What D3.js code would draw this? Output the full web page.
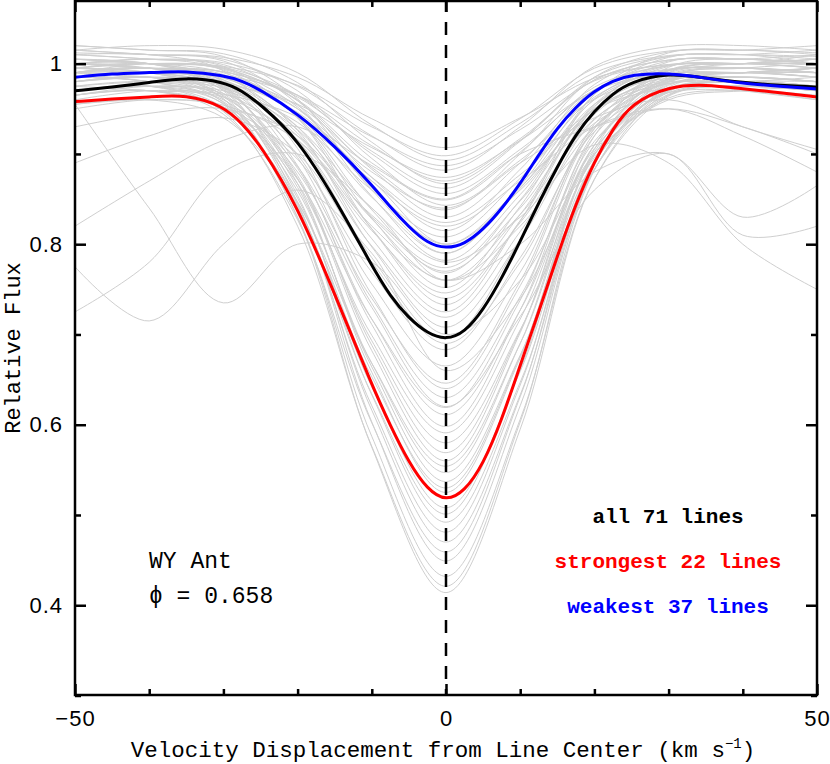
<!DOCTYPE html>
<html>
<head>
<meta charset="utf-8">
<script src="https://cdn.jsdelivr.net/npm/d3@7"></script>
<style>
  html, body { margin: 0; padding: 0; background: #fff; }
  svg { display: block; }
</style>
</head>
<body>
<svg id="chart" width="830" height="764"></svg>
<script>
// ---------------- DATA ----------------
// Individual line profiles sampled at these velocities (km/s)
const velocity = [-50, -40, -30, -20, -10, 0, 10, 20, 30, 40, 50];

// 71 individual line profiles (relative flux)
const lineProfiles = [
  [1.012,1.01,1.007,0.985,0.939,0.907,0.94,0.984,0.999,1.0,1.005],
  [0.995,1.0,0.997,0.976,0.93,0.898,0.939,0.995,1.014,1.015,1.012],
  [1.015,1.02,1.016,0.99,0.932,0.893,0.934,0.99,1.009,1.01,1.008],
  [0.985,0.99,0.987,0.965,0.919,0.887,0.927,0.981,0.999,1.0,0.995],
  [1.0,1.005,1.001,0.975,0.92,0.882,0.93,0.997,1.019,1.02,1.015],
  [0.975,0.98,0.977,0.955,0.907,0.874,0.915,0.97,0.989,0.99,0.985],
  [1.02,1.015,1.011,0.979,0.913,0.867,0.915,0.982,1.004,1.005,1.01],
  [0.99,0.995,0.991,0.963,0.903,0.862,0.914,0.985,1.008,1.01,1.0],
  [1.005,1.0,0.996,0.965,0.9,0.856,0.905,0.971,0.994,0.995,0.99],
  [0.96,0.97,0.966,0.941,0.887,0.849,0.902,0.974,0.998,1.0,1.005],
  [1.015,1.01,1.005,0.97,0.895,0.843,0.893,0.961,0.984,0.985,0.98],
  [0.995,0.99,0.985,0.954,0.885,0.838,0.9,0.985,1.013,1.015,1.02],
  [0.99,1.0,0.995,0.959,0.883,0.83,0.89,0.971,0.998,1.0,1.0],
  [0.98,0.985,0.98,0.946,0.874,0.824,0.877,0.949,0.973,0.975,0.97],
  [1.01,1.005,0.999,0.959,0.874,0.815,0.883,0.977,1.008,1.01,1.015],
  [0.965,0.975,0.97,0.935,0.86,0.808,0.873,0.963,0.993,0.995,0.99],
  [1.005,1.0,0.994,0.952,0.862,0.8,0.863,0.949,0.978,0.98,0.985],
  [0.985,0.99,0.984,0.942,0.852,0.79,0.865,0.968,1.003,1.005,1.0],
  [1.015,1.01,1.003,0.955,0.853,0.782,0.855,0.955,0.988,0.99,0.995],
  [0.95,0.96,0.954,0.915,0.832,0.774,0.848,0.949,0.983,0.985,0.98],
  [1.0,0.995,0.988,0.941,0.838,0.768,0.849,0.961,0.998,1.0,1.01],
  [0.99,0.98,0.973,0.927,0.828,0.76,0.833,0.934,0.968,0.97,0.96],
  [0.995,1.0,0.993,0.94,0.829,0.752,0.842,0.966,1.007,1.01,1.005],
  [0.975,0.97,0.963,0.916,0.815,0.746,0.833,0.953,0.992,0.995,0.99],
  [0.985,0.99,0.982,0.93,0.817,0.74,0.824,0.939,0.978,0.98,0.975],
  [1.01,1.005,0.997,0.94,0.817,0.733,0.826,0.955,0.997,1.0,0.995],
  [0.97,0.975,0.967,0.914,0.798,0.719,0.814,0.944,0.987,0.99,0.995],
  [1.0,0.995,0.986,0.926,0.797,0.708,0.805,0.938,0.982,0.985,0.98],
  [0.98,0.985,0.976,0.915,0.785,0.695,0.805,0.952,1.002,1.005,1.0],
  [0.955,0.96,0.952,0.894,0.769,0.683,0.785,0.925,0.972,0.975,0.97],
  [0.99,0.99,0.974,0.899,0.756,0.665,0.769,0.928,0.983,0.99,0.985],
  [0.975,0.98,0.963,0.886,0.74,0.646,0.759,0.933,0.993,1.0,1.0],
  [1.005,1.0,0.982,0.896,0.734,0.63,0.742,0.914,0.973,0.98,0.975],
  [0.965,0.97,0.952,0.872,0.717,0.619,0.738,0.92,0.983,0.99,0.995],
  [0.985,0.99,0.971,0.884,0.717,0.611,0.727,0.906,0.968,0.975,0.97],
  [0.995,1.0,0.98,0.887,0.711,0.598,0.727,0.924,0.992,1.0,1.005],
  [0.97,0.975,0.956,0.867,0.699,0.591,0.717,0.91,0.977,0.985,0.98],
  [0.98,0.985,0.965,0.872,0.693,0.58,0.705,0.896,0.962,0.97,0.965],
  [1.0,0.995,0.974,0.876,0.688,0.569,0.704,0.91,0.982,0.99,0.99],
  [0.955,0.96,0.94,0.846,0.668,0.554,0.69,0.899,0.971,0.98,0.975],
  [0.985,0.98,0.958,0.859,0.668,0.547,0.69,0.91,0.986,0.995,1.0],
  [0.995,0.99,0.967,0.863,0.664,0.537,0.677,0.892,0.966,0.975,0.97],
  [0.965,0.97,0.948,0.847,0.653,0.53,0.676,0.899,0.976,0.985,0.98],
  [1.005,1.0,0.976,0.867,0.658,0.525,0.674,0.902,0.981,0.99,0.985],
  [0.98,0.985,0.961,0.851,0.642,0.508,0.659,0.89,0.971,0.98,0.975],
  [0.97,0.975,0.951,0.842,0.634,0.501,0.661,0.905,0.99,1.0,0.995],
  [0.99,0.995,0.97,0.854,0.633,0.492,0.647,0.883,0.965,0.975,0.97],
  [0.985,0.98,0.955,0.84,0.621,0.481,0.644,0.893,0.98,0.99,0.995],
  [0.995,0.99,0.964,0.844,0.616,0.47,0.633,0.883,0.97,0.98,0.975],
  [0.965,0.97,0.944,0.827,0.602,0.459,0.631,0.893,0.984,0.995,0.99],
  [1.0,1.0,0.972,0.846,0.603,0.449,0.621,0.883,0.974,0.985,0.98],
  [0.98,0.985,0.957,0.83,0.587,0.432,0.606,0.872,0.964,0.975,0.97],
  [0.97,0.975,0.947,0.82,0.576,0.421,0.603,0.882,0.979,0.99,0.985],
  [0.985,0.99,0.961,0.829,0.575,0.414,0.595,0.872,0.969,0.98,0.975],
  [1.0,0.995,0.991,0.965,0.909,0.87,0.917,0.982,1.004,1.005,1.0],
  [1.02,1.015,1.008,0.961,0.86,0.79,0.862,0.96,0.993,0.995,0.99],
  [0.99,0.985,0.977,0.923,0.806,0.725,0.826,0.966,1.012,1.015,1.01],
  [1.01,1.01,0.992,0.906,0.744,0.64,0.754,0.928,0.988,0.995,0.99],
  [0.99,0.995,0.973,0.873,0.682,0.56,0.702,0.92,0.996,1.005,1.0],
  [0.955,0.84,0.735,0.80,0.78,0.70,0.76,0.90,0.96,0.97,0.975],
  [0.775,0.715,0.80,0.86,0.79,0.66,0.74,0.90,0.97,0.98,0.98],
  [0.725,0.78,0.88,0.90,0.84,0.76,0.82,0.93,0.98,0.99,0.99],
  [0.82,0.87,0.915,0.93,0.87,0.80,0.86,0.95,0.98,0.97,0.96],
  [0.99,0.99,0.975,0.92,0.82,0.76,0.80,0.88,0.90,0.83,0.865],
  [0.97,0.975,0.96,0.88,0.73,0.62,0.72,0.86,0.90,0.81,0.82],
  [0.985,0.99,0.98,0.93,0.84,0.78,0.83,0.91,0.89,0.80,0.75],
  [1.0,1.0,0.99,0.95,0.87,0.82,0.87,0.93,0.95,0.92,0.88],
  [0.99,0.995,0.985,0.95,0.88,0.84,0.89,0.94,0.96,0.93,0.905],
  [1.0,1.005,0.995,0.96,0.89,0.85,0.90,0.93,0.95,0.93,0.90],
  [0.89,0.92,0.94,0.90,0.78,0.69,0.78,0.93,0.98,0.99,0.99],
  [0.93,0.945,0.95,0.92,0.83,0.77,0.84,0.95,0.99,1.0,1.0]
];

// Mean profiles, sampled at these velocities
const meanVelocity = [-50,-45,-40,-35,-30,-27.5,-25,-20,-15,-10,-7.5,-5,-2.5,0,2.5,5,7.5,10,12.5,15,17.5,20,22.5,25,30,35,40,45,50];
const meanAll = [0.970,0.974,0.979,0.985,0.980,0.970,0.955,0.917,0.851,0.776,0.742,0.718,0.701,0.694,0.702,0.727,0.762,0.803,0.846,0.886,0.922,0.948,0.967,0.980,0.990,0.984,0.979,0.976,0.974];
const meanStrong = [0.958,0.961,0.963,0.966,0.953,0.934,0.910,0.842,0.745,0.644,0.599,0.558,0.528,0.515,0.526,0.556,0.605,0.666,0.725,0.787,0.845,0.892,0.928,0.956,0.975,0.977,0.972,0.968,0.963];
const meanWeak = [0.985,0.989,0.990,0.992,0.987,0.981,0.971,0.945,0.909,0.866,0.841,0.819,0.801,0.795,0.800,0.816,0.839,0.867,0.899,0.929,0.952,0.970,0.981,0.988,0.990,0.984,0.978,0.975,0.972];

const xMajorTicks = [-50, 0, 50];
const xMinorTicks = [-40, -30, -20, -10, 10, 20, 30, 40];
const xTickLabels = ["\u221250", "0", "50"];
const yMajorTicks = [0.4, 0.6, 0.8, 1.0];
const yMinorTicks = [0.3, 0.5, 0.7, 0.9];
const yTickLabels = ["0.4", "0.6", "0.8", "1"];

const legendLabels = ["all 71 lines", "strongest 22 lines", "weakest 37 lines"];
const starLabels = ["WY Ant", "\u03d5 = 0.658"];

// ---------------- LAYOUT ----------------
const L = 75, R = 817, T = 1, B = 695;
const svg = d3.select("#chart");

const x = d3.scaleLinear().domain([-50, 50]).range([L, R]);
const y = d3.scaleLinear().domain([0.3, 1.07]).range([B + 0.5, 0.5]);

svg.append("defs").append("clipPath").attr("id", "plotclip")
  .append("rect").attr("x", L).attr("y", T).attr("width", R - L).attr("height", B - T);

const plot = svg.append("g").attr("clip-path", "url(#plotclip)");

const lineGray = d3.line()
  .x((d, i) => x(velocity[i]))
  .y(d => y(d))
  .curve(d3.curveCatmullRom.alpha(0.5));

plot.selectAll("path.gray").data(lineProfiles).join("path")
  .attr("class", "gray")
  .attr("d", lineGray)
  .attr("fill", "none")
  .attr("stroke", "#cfcfcf")
  .attr("stroke-width", 1);

const lineMean = d3.line()
  .x((d, i) => x(meanVelocity[i]))
  .y(d => y(d))
  .curve(d3.curveBasis);

const means = [
  { values: meanAll, color: "#000000" },
  { values: meanStrong, color: "#ff0000" },
  { values: meanWeak, color: "#0000ff" }
];
plot.selectAll("path.mean").data(means).join("path")
  .attr("class", "mean")
  .attr("d", d => lineMean(d.values))
  .attr("fill", "none")
  .attr("stroke", d => d.color)
  .attr("stroke-width", 3);

// dashed line at zero velocity
svg.append("line")
  .attr("x1", x(0)).attr("x2", x(0))
  .attr("y1", T).attr("y2", B)
  .attr("stroke", "#000")
  .attr("stroke-width", 2.5)
  .attr("stroke-dasharray", "13,10")
  .attr("stroke-dashoffset", 2);

// ---------------- AXES ----------------
function styleAxis(g) {
  g.select(".domain").remove();
  g.selectAll(".tick line").attr("stroke", "#000").attr("stroke-width", 2.5);
}
const tickFont = "'Liberation Sans', Arial, sans-serif";

// bottom
svg.append("g").attr("transform", `translate(0,${B})`)
  .call(d3.axisBottom(x).tickValues(xMajorTicks).tickSize(-11).tickPadding(15)
    .tickFormat((d, i) => xTickLabels[i]))
  .call(styleAxis)
  .call(g => g.selectAll("text").attr("font-family", tickFont).attr("font-size", 22)
    .attr("letter-spacing", "1px").attr("fill", "#000"));
svg.append("g").attr("transform", `translate(0,${B})`)
  .call(d3.axisBottom(x).tickValues(xMinorTicks).tickSize(-6).tickFormat(""))
  .call(styleAxis);
// top
svg.append("g").attr("transform", `translate(0,${T})`)
  .call(d3.axisTop(x).tickValues(xMajorTicks).tickSize(-11).tickFormat(""))
  .call(styleAxis);
svg.append("g").attr("transform", `translate(0,${T})`)
  .call(d3.axisTop(x).tickValues(xMinorTicks).tickSize(-6).tickFormat(""))
  .call(styleAxis);
// left
svg.append("g").attr("transform", `translate(${L},0)`)
  .call(d3.axisLeft(y).tickValues(yMajorTicks).tickSize(-11).tickPadding(12)
    .tickFormat((d, i) => yTickLabels[i]))
  .call(styleAxis)
  .call(g => g.selectAll("text").attr("font-family", tickFont).attr("font-size", 22)
    .attr("letter-spacing", "1px").attr("fill", "#000"));
svg.append("g").attr("transform", `translate(${L},0)`)
  .call(d3.axisLeft(y).tickValues(yMinorTicks).tickSize(-6).tickFormat(""))
  .call(styleAxis);
// right
svg.append("g").attr("transform", `translate(${R},0)`)
  .call(d3.axisRight(y).tickValues(yMajorTicks).tickSize(-11).tickFormat(""))
  .call(styleAxis);
svg.append("g").attr("transform", `translate(${R},0)`)
  .call(d3.axisRight(y).tickValues(yMinorTicks).tickSize(-6).tickFormat(""))
  .call(styleAxis);

// frame
svg.append("rect")
  .attr("x", L).attr("y", T).attr("width", R - L).attr("height", B - T)
  .attr("fill", "none").attr("stroke", "#000").attr("stroke-width", 2.5);

// ---------------- TEXT ----------------
const monoFont = "'Liberation Mono', 'DejaVu Sans Mono', monospace";

const xTitle = svg.append("text")
  .attr("x", (L + R) / 2 - 3).attr("y", 757)
  .attr("text-anchor", "middle")
  .attr("font-family", monoFont).attr("font-size", 22.5).attr("fill", "#000");
xTitle.append("tspan").text("Velocity Displacement from Line Center (km s");
xTitle.append("tspan").attr("font-size", 14).attr("dy", -9).text("\u22121");
xTitle.append("tspan").attr("dy", 9).text(")");

svg.append("text")
  .attr("transform", `translate(20,${(T + B) / 2}) rotate(-90)`)
  .attr("text-anchor", "middle")
  .attr("font-family", monoFont).attr("font-size", 22).attr("fill", "#000")
  .text("Relative Flux");

svg.selectAll("text.star").data(starLabels).join("text")
  .attr("class", "star")
  .attr("x", 149).attr("y", (d, i) => 568 + i * 35)
  .attr("font-family", monoFont).attr("font-size", 23).attr("fill", "#000")
  .text(d => d);

const legendColors = ["#000000", "#ff0000", "#0000ff"];
svg.selectAll("text.legend").data(legendLabels).join("text")
  .attr("class", "legend")
  .attr("x", 668).attr("y", (d, i) => 523 + i * 45)
  .attr("text-anchor", "middle")
  .attr("font-family", monoFont).attr("font-size", 21).attr("font-weight", "bold")
  .attr("fill", (d, i) => legendColors[i])
  .text(d => d);
</script>
</body>
</html>
